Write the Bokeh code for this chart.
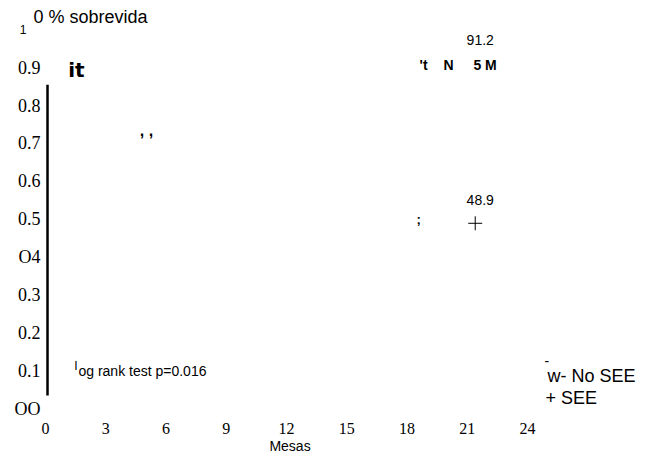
from bokeh.plotting import figure
from bokeh.models import FixedTicker, Range1d, Label, LinearAxis
from bokeh.core.properties import value
from bokeh.embed import file_html
from bokeh.resources import INLINE

# ---- data ----
groups = ["No SEE", "SEE"]
end_month = [21.4, 21.4]
end_surv = [0.912, 0.489]
surv_labels = ["91.2", "48.9"]
legend_prefix = ["w- ", "+ "]

drop_x = [0.1]
drop_top = [0.855]
drop_bottom = [0.034]

x_ticks = [0, 3, 6, 9, 12, 15, 18, 21, 24]
x_tick_labels = ["0", "3", "6", "9", "12", "15", "18", "21", "24"]
y_ticks = [0.0, 0.1, 0.2, 0.3, 0.4, 0.5, 0.6, 0.7, 0.8, 0.9]
y_tick_labels = ["OO", "0.1", "0.2", "0.3", "O4", "0.5", "0.6", "0.7", "0.8", "0.9"]
y_top_tick = [1.0]
y_top_label = ["1"]
x_title = "Mesas"
y_title = "0 % sobrevida"

SANS = "Liberation Sans"
SERIF = "Liberation Serif"
NB = "\u00a0"

p = figure(width=645, height=457, x_range=Range1d(0, 29.78), y_range=Range1d(0, 1.0086),
           output_backend="svg", toolbar_location=None,
           min_border_left=45, min_border_right=2, min_border_top=26, min_border_bottom=49)
p.outline_line_color = None
p.grid.visible = False
p.background_fill_color = "white"
p.border_fill_color = "white"

p.title.text = y_title
p.title.align = "left"
p.title.offset = -12
p.title.standoff = 0
p.title.text_font = SANS
p.title.text_font_size = "18px"
p.title.text_font_style = "normal"
p.title.text_color = "black"

def style_axis(ax):
    ax.axis_line_color = None
    ax.major_tick_line_color = None
    ax.minor_tick_line_color = None
    ax.major_tick_out = 0
    ax.major_tick_in = 0
    ax.minor_tick_out = 0
    ax.minor_tick_in = 0

ya = p.yaxis[0]
ya.ticker = FixedTicker(ticks=y_ticks)
ya.major_label_overrides = dict(zip(y_ticks, y_tick_labels))
ya.major_label_text_font = SERIF
ya.major_label_text_font_size = "18px"
ya.major_label_text_color = "black"
ya.major_label_standoff = 5
style_axis(ya)

# small top label "1" on an outer axis, pulled inwards
ya2 = LinearAxis(ticker=FixedTicker(ticks=y_top_tick),
                 major_label_overrides=dict(zip(y_top_tick, y_top_label)))
ya2.major_label_text_font = SANS
ya2.major_label_text_font_size = "12px"
ya2.major_label_text_color = "black"
ya2.major_label_standoff = -15
style_axis(ya2)
p.add_layout(ya2, "left")

xa = p.xaxis[0]
xa.ticker = FixedTicker(ticks=x_ticks)
xa.major_label_overrides = dict(zip(x_ticks, x_tick_labels))
xa.major_label_text_font = SERIF
xa.major_label_text_font_size = "16px"
xa.major_label_text_color = "black"
xa.major_label_standoff = 14
# trailing no-break spaces move the centred label left, under the 0-24 ticks
xa.axis_label = x_title + NB * 28
xa.axis_label_text_font = SANS
xa.axis_label_text_font_size = "14px"
xa.axis_label_text_font_style = "normal"
xa.axis_label_text_color = "black"
xa.axis_label_standoff = 1
style_axis(xa)

# vertical drop line
p.segment(x0=drop_x, y0=drop_bottom, x1=drop_x, y1=drop_top,
          line_color="black", line_width=2.5)

# censor mark for the SEE group
p.scatter(x=[end_month[1]], y=[end_surv[1]], marker="cross", size=14,
          line_color="black", line_width=1)

# survival values at the end of follow-up
p.text(x=end_month, y=end_surv, text=surv_labels, text_font=value(SANS),
       text_font_size="14px", text_color="black", text_align="center",
       text_baseline="middle", x_offset=5, y_offset=-23)

# legend texts
p.text(x=[25.0, 24.9], y=[0.087, 0.029],
       text=[legend_prefix[i] + groups[i] for i in range(len(groups))],
       text_font=value(SANS), text_font_size="18px", text_color="black",
       text_align="left", text_baseline="middle")

def note(x, y, text, size="14px", style="normal", align="left", font=SANS):
    p.add_layout(Label(x=x, y=y, text=text, text_font=font, text_font_size=size,
                       text_font_style=style, text_color="black",
                       text_align=align, text_baseline="middle"))

note(1.54, 0.895, "it", size="20px", style="bold", align="center", font="DejaVu Sans")
note(5.03, 0.734, ", ,", size="16px", style="bold", align="center")
note(18.63, 0.906, "'t", style="bold")
note(19.82, 0.906, "N", style="bold")
note(21.31, 0.906, "5 M", style="bold")
note(18.58, 0.500, ";", size="13px", style="bold", align="center")
note(1.45, 0.113, "l", size="13px")
note(1.64, 0.100, "og rank test p=0.016", size="14px")
note(24.85, 0.125, "-", size="14px")

open("out.html", "w").write(file_html(p, INLINE))
